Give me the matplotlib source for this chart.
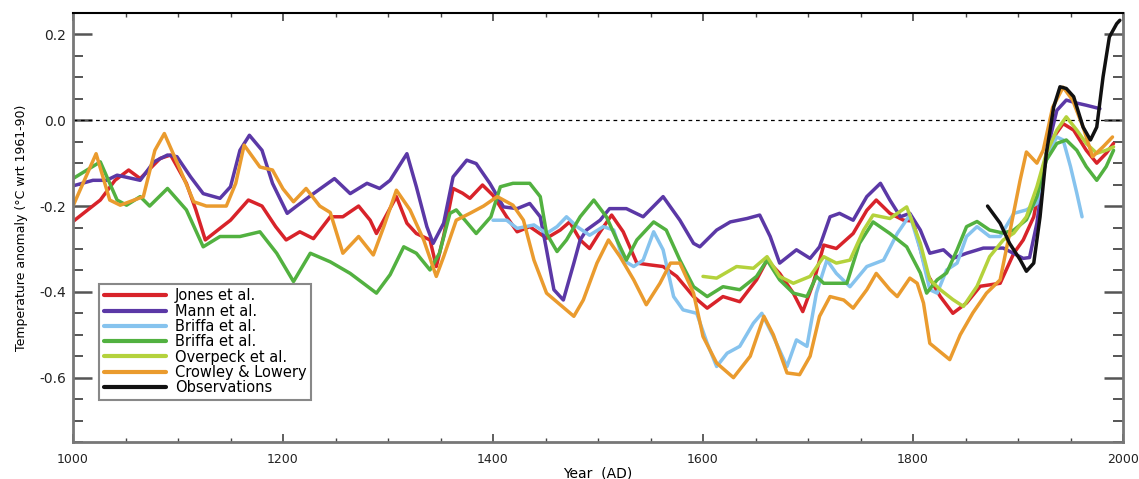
import matplotlib
matplotlib.use("Agg")
import matplotlib.pyplot as plt
from matplotlib.ticker import MultipleLocator

# Values (year, anomaly in deg C wrt 1961-90)
jones_years = [1000, 1026, 1040, 1053, 1064, 1083, 1093, 1108, 1117, 1126, 1140, 1150, 1167, 1180,
               1193, 1203, 1216, 1229, 1245, 1257, 1272, 1283, 1289, 1308, 1318, 1327, 1340, 1346,
               1353, 1362, 1371, 1378, 1390, 1400, 1413, 1423, 1435, 1451, 1464, 1473, 1483, 1492,
               1502, 1513, 1524, 1537, 1549, 1562, 1575, 1591, 1604, 1619, 1635, 1651, 1661, 1673,
               1686, 1695, 1705, 1715, 1727, 1743, 1756, 1765, 1778, 1791, 1800, 1813, 1826, 1838,
               1851, 1864, 1883, 1896, 1905, 1915, 1924, 1934, 1943, 1953, 1965, 1975, 1984, 1991]
jones_vals = [-0.236, -0.186, -0.14, -0.116, -0.136, -0.089, -0.081, -0.147, -0.209, -0.279, -0.252,
              -0.233, -0.186, -0.2, -0.248, -0.279, -0.26, -0.276, -0.225, -0.225, -0.2, -0.233,
              -0.264, -0.178, -0.24, -0.264, -0.279, -0.341, -0.27, -0.159, -0.17, -0.182, -0.151,
              -0.175, -0.225, -0.26, -0.248, -0.275, -0.256, -0.237, -0.279, -0.299, -0.26, -0.221,
              -0.26, -0.333, -0.337, -0.341, -0.364, -0.411, -0.438, -0.411, -0.423, -0.372, -0.326,
              -0.357, -0.403, -0.446, -0.38, -0.291, -0.299, -0.264, -0.21, -0.186, -0.217, -0.233,
              -0.235, -0.356, -0.411, -0.45, -0.426, -0.387, -0.38, -0.31, -0.279, -0.225, -0.108,
              -0.039, -0.008, -0.023, -0.07, -0.1, -0.077, -0.054]

mann_years = [1000, 1019, 1032, 1042, 1064, 1077, 1090, 1099, 1112, 1124, 1140, 1150, 1159, 1168,
              1180, 1190, 1204, 1213, 1229, 1249, 1264, 1280, 1292, 1302, 1318, 1327, 1337, 1343,
              1353, 1362, 1375, 1384, 1397, 1410, 1423, 1435, 1445, 1451, 1458, 1467, 1477, 1483,
              1489, 1502, 1511, 1527, 1543, 1562, 1578, 1591, 1597, 1613, 1626, 1642, 1654, 1664,
              1673, 1689, 1702, 1711, 1721, 1730, 1743, 1756, 1769, 1778, 1788, 1797, 1807, 1816,
              1829, 1838, 1851, 1867, 1886, 1905, 1911, 1918, 1927, 1937, 1946, 1956, 1965, 1978]
mann_vals = [-0.153, -0.14, -0.14, -0.128, -0.14, -0.097, -0.081, -0.085, -0.132, -0.171, -0.182,
             -0.155, -0.07, -0.035, -0.07, -0.147, -0.217, -0.2, -0.171, -0.136, -0.171, -0.147,
             -0.159, -0.14, -0.078, -0.155, -0.248, -0.287, -0.24, -0.132, -0.093, -0.101, -0.147,
             -0.202, -0.206, -0.194, -0.225, -0.302, -0.395, -0.419, -0.333, -0.279, -0.256, -0.233,
             -0.206, -0.206, -0.225, -0.178, -0.233, -0.287, -0.295, -0.256, -0.237, -0.229, -0.221,
             -0.271, -0.333, -0.302, -0.322, -0.295, -0.225, -0.217, -0.233, -0.178, -0.147, -0.186,
             -0.225, -0.217, -0.256, -0.31, -0.302, -0.322, -0.31, -0.298, -0.298, -0.322, -0.32,
             -0.24, -0.077, 0.023, 0.047, 0.04, 0.035, 0.027]

briffa1_years = [1400, 1413, 1423, 1439, 1451, 1461, 1470, 1480, 1492, 1505, 1515, 1524, 1534, 1543,
                 1553, 1562, 1572, 1581, 1594, 1604, 1613, 1623, 1635, 1648, 1656, 1667, 1680, 1689,
                 1699, 1708, 1718, 1727, 1740, 1756, 1772, 1785, 1797, 1807, 1816, 1823, 1832, 1842,
                 1851, 1861, 1873, 1883, 1896, 1908, 1918, 1927, 1937, 1943, 1950, 1956, 1961]
briffa1_vals = [-0.233, -0.233, -0.252, -0.244, -0.264, -0.248, -0.225, -0.248, -0.268, -0.248,
                -0.256, -0.326, -0.341, -0.326, -0.26, -0.302, -0.411, -0.442, -0.45, -0.52, -0.574,
                -0.543, -0.527, -0.473, -0.45, -0.504, -0.574, -0.512, -0.527, -0.403, -0.326, -0.357,
                -0.388, -0.341, -0.326, -0.264, -0.221, -0.302, -0.395, -0.403, -0.349, -0.333, -0.271,
                -0.248, -0.271, -0.271, -0.217, -0.209, -0.194, -0.085, -0.039, -0.046, -0.108, -0.17,
                -0.225]

briffa2_years = [1000, 1026, 1042, 1051, 1064, 1073, 1090, 1108, 1124, 1140, 1159, 1178, 1194, 1210,
                 1226, 1245, 1264, 1289, 1302, 1315, 1327, 1340, 1349, 1359, 1365, 1384, 1398, 1407,
                 1419, 1435, 1445, 1451, 1461, 1470, 1483, 1496, 1508, 1518, 1527, 1537, 1553, 1565,
                 1578, 1591, 1604, 1619, 1635, 1651, 1661, 1673, 1686, 1699, 1708, 1715, 1737, 1749,
                 1762, 1778, 1794, 1807, 1813, 1823, 1832, 1842, 1851, 1861, 1873, 1886, 1896, 1908,
                 1918, 1927, 1937, 1946, 1956, 1965, 1975, 1984, 1991]
briffa2_vals = [-0.136, -0.097, -0.186, -0.198, -0.178, -0.2, -0.159, -0.209, -0.295, -0.271, -0.271,
                -0.26, -0.31, -0.376, -0.31, -0.33, -0.357, -0.403, -0.36, -0.295, -0.31, -0.349,
                -0.31, -0.217, -0.209, -0.264, -0.225, -0.155, -0.147, -0.147, -0.178, -0.264, -0.306,
                -0.279, -0.225, -0.186, -0.225, -0.279, -0.326, -0.279, -0.237, -0.256, -0.326, -0.388,
                -0.411, -0.388, -0.395, -0.364, -0.326, -0.372, -0.403, -0.411, -0.364, -0.38, -0.38,
                -0.287, -0.237, -0.264, -0.295, -0.356, -0.403, -0.372, -0.356, -0.302, -0.248, -0.236,
                -0.256, -0.263, -0.256, -0.232, -0.178, -0.093, -0.054, -0.046, -0.07, -0.108, -0.14,
                -0.108, -0.07]

overpeck_years = [1600, 1613, 1632, 1648, 1661, 1673, 1686, 1702, 1715, 1727, 1740, 1753, 1762, 1778,
                  1794, 1807, 1816, 1826, 1838, 1848, 1861, 1873, 1886, 1896, 1908, 1918, 1927, 1937,
                  1946, 1956, 1965, 1975, 1984, 1991]
overpeck_vals = [-0.364, -0.368, -0.341, -0.345, -0.318, -0.364, -0.38, -0.364, -0.318, -0.333,
                 -0.326, -0.256, -0.221, -0.229, -0.202, -0.287, -0.372, -0.395, -0.418, -0.434,
                 -0.387, -0.318, -0.279, -0.263, -0.225, -0.155, -0.077, -0.023, 0.008, -0.023,
                 -0.054, -0.077, -0.07, -0.062]

crowley_years = [1000, 1022, 1035, 1045, 1067, 1078, 1087, 1101, 1115, 1127, 1146, 1155, 1163, 1178,
                 1190, 1200, 1210, 1222, 1235, 1245, 1257, 1272, 1286, 1296, 1308, 1321, 1334, 1346,
                 1353, 1365, 1378, 1391, 1404, 1419, 1429, 1439, 1451, 1464, 1477, 1486, 1499, 1510,
                 1521, 1534, 1546, 1559, 1569, 1578, 1591, 1600, 1613, 1629, 1645, 1658, 1667, 1680,
                 1692, 1702, 1711, 1721, 1734, 1743, 1756, 1765, 1778, 1785, 1797, 1804, 1810, 1816,
                 1835, 1845, 1857, 1870, 1883, 1892, 1902, 1908, 1918, 1924, 1933, 1943, 1952, 1962,
                 1971, 1981, 1990]
crowley_vals = [-0.2, -0.078, -0.186, -0.198, -0.178, -0.07, -0.031, -0.109, -0.19, -0.2, -0.2,
                -0.147, -0.058, -0.109, -0.116, -0.16, -0.19, -0.159, -0.2, -0.215, -0.31, -0.271,
                -0.314, -0.248, -0.163, -0.209, -0.279, -0.364, -0.318, -0.233, -0.217, -0.2, -0.178,
                -0.198, -0.233, -0.326, -0.403, -0.43, -0.457, -0.419, -0.333, -0.279, -0.318, -0.372,
                -0.43, -0.38, -0.333, -0.333, -0.403, -0.504, -0.566, -0.6, -0.55, -0.457, -0.5,
                -0.589, -0.593, -0.55, -0.457, -0.411, -0.419, -0.438, -0.395, -0.357, -0.395, -0.411,
                -0.368, -0.38, -0.426, -0.52, -0.558, -0.5, -0.449, -0.403, -0.372, -0.263, -0.14,
                -0.074, -0.1, -0.07, 0.03, 0.077, 0.047, -0.016, -0.085, -0.062, -0.039]

obs_years = [1871, 1883, 1892, 1902, 1908, 1915, 1921, 1927, 1934, 1940, 1946, 1953, 1962, 1969,
             1975, 1981, 1987, 1994, 1997]
obs_vals = [-0.2, -0.24, -0.287, -0.325, -0.352, -0.333, -0.225, -0.077, 0.031, 0.078, 0.074,
            0.055, -0.016, -0.046, -0.016, 0.101, 0.194, 0.225, 0.233]

series = [
    ("Jones et al.", jones_years, jones_vals, "#d8232a"),
    ("Mann et al.", mann_years, mann_vals, "#5b38a6"),
    ("Briffa et al.", briffa1_years, briffa1_vals, "#86c3ee"),
    ("Briffa et al.", briffa2_years, briffa2_vals, "#52b140"),
    ("Overpeck et al.", overpeck_years, overpeck_vals, "#b4d23c"),
    ("Crowley & Lowery", crowley_years, crowley_vals, "#ea9b2e"),
    ("Observations", obs_years, obs_vals, "#111111"),
]

fig = plt.figure(figsize=(11.39, 4.79), dpi=100)
ax = fig.add_axes([73 / 1139, 1 - 442 / 479, 1050 / 1139, 429 / 479])

ax.axhline(0, color="black", lw=0.9, ls=(0, (3, 3)))
for label, yrs, vals, col in series:
    ax.plot(yrs, vals, color=col, lw=2.5, label=label,
            solid_joinstyle="round", solid_capstyle="round")

ax.set_xlim(1000, 2000)
ax.set_ylim(-0.75, 0.25)
ax.xaxis.set_major_locator(MultipleLocator(200))
ax.xaxis.set_minor_locator(MultipleLocator(50))
ax.yaxis.set_major_locator(MultipleLocator(0.2))
ax.yaxis.set_minor_locator(MultipleLocator(0.05))
ax.yaxis.set_major_formatter(plt.FuncFormatter(lambda v, p: f"{v:.1f}".replace("-0.0", "0.0")))

ax.tick_params(axis="x", which="both", direction="in", top=True, bottom=True,
               labelsize=9, pad=8, colors="#444444", labelcolor="#222222")
ax.tick_params(axis="x", which="major", length=6, width=1.2)
ax.tick_params(axis="x", which="minor", length=3, width=1.0)
ax.tick_params(axis="y", which="both", direction="in", left=True, right=True,
               labelsize=10, pad=5, colors="#555555", labelcolor="#222222")
ax.tick_params(axis="y", which="major", length=14, width=1.8)
ax.tick_params(axis="y", which="minor", length=7, width=1.4)

for side in ["left", "right", "bottom"]:
    ax.spines[side].set_color("#777777")
    ax.spines[side].set_linewidth(2)
ax.spines["top"].set_color("black")
ax.spines["top"].set_linewidth(1.5)

ax.set_xlabel("Year  (AD)", fontsize=10, labelpad=0)
ax.set_ylabel("Temperature anomaly (°C wrt 1961-90)", fontsize=9, labelpad=8)

leg = ax.legend(loc="lower left", bbox_to_anchor=(0.018, 0.082), fontsize=10.5,
                handlelength=4.3, handletextpad=0.6, labelspacing=0.02, borderpad=0.3,
                fancybox=False, framealpha=1, edgecolor="#888888")
leg.get_frame().set_linewidth(1.5)
for line in leg.get_lines():
    line.set_linewidth(3)

fig.savefig("out.png", dpi=100)
